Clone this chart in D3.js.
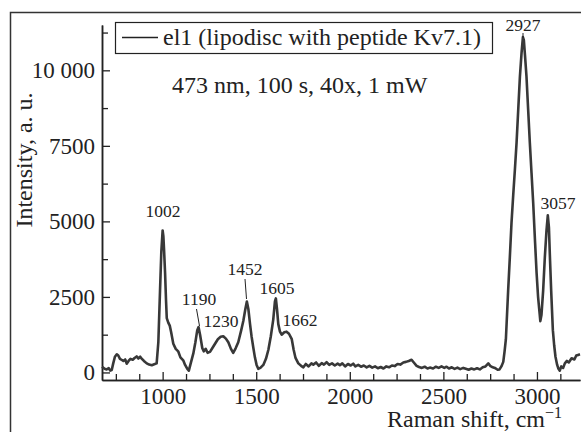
<!DOCTYPE html>
<html>
<head>
<meta charset="utf-8">
<script src="https://cdn.jsdelivr.net/npm/d3@7"></script>
<style>
  body { margin: 0; background: #fff; }
  svg { display: block; }
</style>
</head>
<body>
<div id="chart"></div>
<script>
// Raman spectrum (cm-1, a.u.)
const shift = [676, 690, 701, 712, 720, 728, 736, 745, 755, 763, 772, 780, 790, 800, 808, 818, 828, 840, 850, 861,
  870, 880, 888, 900, 915, 928, 942, 955, 968, 977, 986, 993, 1000, 1004, 1008, 1013, 1018, 1022, 1030, 1038,
  1045, 1057, 1070, 1083, 1095, 1110, 1120, 1132, 1140, 1150, 1164, 1175, 1185, 1192, 1200, 1212, 1220, 1230, 1240, 1253,
  1265, 1280, 1295, 1310, 1324, 1338, 1351, 1365, 1377, 1390, 1404, 1420, 1431, 1442, 1450, 1458, 1467, 1475, 1485, 1493,
  1502, 1511, 1522, 1538, 1552, 1565, 1578, 1591, 1600, 1605, 1611, 1618, 1627, 1636, 1650, 1662, 1675, 1690, 1700, 1710,
  1725, 1740, 1752, 1765, 1780, 1795, 1805, 1820, 1835, 1850, 1862, 1876, 1890, 1905, 1920, 1935, 1947, 1960, 1975, 1990,
  2005, 2018, 2030, 2045, 2060, 2075, 2090, 2105, 2120, 2135, 2150, 2165, 2180, 2195, 2210, 2225, 2240, 2255, 2270, 2286,
  2300, 2315, 2330, 2342, 2357, 2370, 2385, 2400, 2415, 2428, 2445, 2460, 2475, 2490, 2505, 2517, 2530, 2545, 2560, 2575,
  2590, 2606, 2620, 2635, 2650, 2665, 2680, 2695, 2710, 2725, 2740, 2750, 2760, 2775, 2790, 2800, 2810, 2820, 2827, 2834,
  2840, 2846, 2855, 2864, 2873, 2882, 2891, 2900, 2909, 2918, 2925, 2930, 2936, 2944, 2953, 2962, 2971, 2980, 2990, 2998,
  3006, 3012, 3018, 3024, 3033, 3042, 3051, 3058, 3064, 3070, 3076, 3085, 3092, 3099, 3108, 3115, 3122, 3130, 3140, 3149,
  3160, 3170, 3185, 3200, 3210, 3220, 3230];
const intensity = [190, 120, 100, 140, 60, 80, 300, 520, 600, 560, 450, 420, 380, 430, 290, 380, 450, 420, 480, 530,
  460, 520, 460, 380, 300, 260, 240, 270, 300, 1000, 2700, 4000, 4700, 4500, 4000, 3300, 2400, 1800, 1650, 1550,
  1350, 950, 780, 700, 500, 400, 250, 120, 60, 300, 630, 1000, 1400, 1500, 1250, 800, 700, 780, 650, 680,
  800, 950, 1100, 1180, 1200, 1120, 1000, 780, 650, 800, 1000, 1400, 1700, 2100, 2350, 2100, 1600, 1200, 800, 500,
  250, 120, 150, 250, 450, 750, 1200, 1750, 2350, 2450, 2100, 1600, 1350, 1250, 1330, 1350, 1280, 1100, 750, 480,
  300, 220, 170, 280, 200, 300, 260, 330, 220, 310, 260, 340, 250, 300, 230, 290, 240, 300, 200, 280,
  230, 290, 200, 250, 190, 230, 170, 220, 160, 200, 140, 180, 130, 200, 170, 230, 210, 280, 260, 330,
  350, 380, 420, 330, 220, 180, 150, 190, 130, 160, 130, 190, 150, 200, 150, 190, 130, 170, 120, 160,
  110, 150, 120, 90, 130, 100, 140, 100, 170, 200, 300, 220, 180, 150, 90, 100, 200, 350, 700, 1100,
  1900, 2700, 3800, 4950, 5850, 6700, 7600, 8700, 9800, 10600, 11100, 11000, 10500, 9800, 8700, 7600, 6600, 5600, 4300, 3300,
  2500, 2100, 1700, 1900, 2700, 3800, 4700, 5200, 4800, 3700, 2700, 1400, 900, 520, 250, 120, 60, 200, 150, 300,
  380, 330, 470, 430, 560, 580, 600];

const peakLabels = ["1002", "1190", "1230", "1452", "1605", "1662", "2927", "3057"];
const yTicks = [0, 2500, 5000, 7500, 10000];
const yTickLabels = ["0", "2500", "5000", "7500", "10 000"];
const yMinor = [1250, 3750, 6250, 8750, 11250];
const xTicks = [1000, 1500, 2000, 2500, 3000];
const xTickLabels = ["1000", "1500", "2000", "2500", "3000"];
const xMinor = [750, 875, 1125, 1250, 1375, 1625, 1750, 1875, 2125, 2250, 2375, 2625, 2750, 2875, 3125];

const width = 581;
const height = 432;
const font = "'Liberation Serif', 'Times New Roman', serif";
const ink = "#222";

const svg = d3.select("#chart")
  .append("svg")
  .attr("width", width)
  .attr("height", height);

// outer frame (cut off at right and bottom like the scan)
svg.append("rect")
  .attr("x", 10.5).attr("y", 12.5)
  .attr("width", 600).attr("height", 440)
  .attr("fill", "none")
  .attr("stroke", "#333")
  .attr("stroke-width", 1.5);

const x = d3.scaleLinear().domain([676, 3230]).range([102, 580]);
const y = d3.scaleLinear().domain([-250, 11500]).range([380, 25]);

// axes: ticks point into the plot
svg.append("g")
  .attr("transform", "translate(102,0)")
  .call(d3.axisLeft(y).tickValues(yTicks).tickSize(-8).tickSizeOuter(0).tickPadding(7)
    .tickFormat((d, i) => yTickLabels[i]));
svg.append("g")
  .attr("transform", "translate(102,0)")
  .call(d3.axisLeft(y).tickValues(yMinor).tickSize(-6).tickSizeOuter(0).tickFormat(""));

svg.append("g")
  .attr("transform", "translate(0,380)")
  .call(d3.axisBottom(x).tickValues(xTicks).tickSize(-8).tickSizeOuter(0).tickPadding(8)
    .tickFormat((d, i) => xTickLabels[i]));
svg.append("g")
  .attr("transform", "translate(0,380)")
  .call(d3.axisBottom(x).tickValues(xMinor).tickSize(-6).tickSizeOuter(0).tickFormat(""));

svg.selectAll(".domain").attr("stroke", ink).attr("stroke-width", 1.5);
svg.selectAll(".tick line").attr("stroke", ink).attr("stroke-width", 1.3);
svg.selectAll(".tick text")
  .attr("fill", ink)
  .style("font-family", font)
  .style("font-size", "23px");

// spectrum
const pts = shift.map((s, i) => [s, intensity[i]]);
svg.append("path")
  .datum(pts)
  .attr("fill", "none")
  .attr("stroke", "#383838")
  .attr("stroke-width", 2.6)
  .attr("stroke-linejoin", "round")
  .attr("d", d3.line().x((d) => x(d[0])).y((d) => y(d[1])));

// peak labels
const lab = [
  { t: peakLabels[0], x: 163, y: 217 },
  { t: peakLabels[1], x: 199, y: 305 },
  { t: peakLabels[2], x: 221, y: 327 },
  { t: peakLabels[3], x: 245, y: 275 },
  { t: peakLabels[4], x: 277, y: 294 },
  { t: peakLabels[5], x: 300, y: 326 },
  { t: peakLabels[6], x: 523, y: 31 },
  { t: peakLabels[7], x: 558, y: 209 }
];
svg.append("g").selectAll("text")
  .data(lab)
  .enter()
  .append("text")
  .attr("x", (d) => d.x)
  .attr("y", (d) => d.y)
  .attr("text-anchor", "middle")
  .attr("fill", ink)
  .style("font-family", font)
  .style("font-size", "17.5px")
  .text((d) => d.t);

// leader lines
const leaders = [[196.5, 309, 199.5, 326], [245, 279, 246.5, 299], [523, 33, 523, 38]];
svg.append("g").selectAll("line")
  .data(leaders)
  .enter()
  .append("line")
  .attr("x1", (d) => d[0]).attr("y1", (d) => d[1])
  .attr("x2", (d) => d[2]).attr("y2", (d) => d[3])
  .attr("stroke", ink)
  .attr("stroke-width", 1);

// legend
svg.append("rect")
  .attr("x", 115.5).attr("y", 22.5)
  .attr("width", 377).attr("height", 31)
  .attr("fill", "#fff")
  .attr("stroke", ink)
  .attr("stroke-width", 1.2);
svg.append("line")
  .attr("x1", 122).attr("x2", 158)
  .attr("y1", 37.5).attr("y2", 37.5)
  .attr("stroke", ink)
  .attr("stroke-width", 1.5);
svg.append("text")
  .attr("x", 163).attr("y", 45)
  .attr("fill", ink)
  .style("font-family", font)
  .style("font-size", "24px")
  .text("el1 (lipodisc with peptide Kv7.1)");

svg.append("text")
  .attr("x", 172).attr("y", 93)
  .attr("fill", ink)
  .style("font-family", font)
  .style("font-size", "24px")
  .text("473 nm, 100 s, 40x, 1 mW");

// axis titles
svg.append("text")
  .attr("transform", "translate(32,160) rotate(-90)")
  .attr("text-anchor", "middle")
  .attr("fill", ink)
  .style("font-family", font)
  .style("font-size", "24px")
  .text("Intensity, a. u.");

const xt = svg.append("text")
  .attr("x", 562).attr("y", 427)
  .attr("text-anchor", "end")
  .attr("fill", ink)
  .style("font-family", font)
  .style("font-size", "24px");
xt.append("tspan").text("Raman shift, cm");
xt.append("tspan").attr("dy", -9).style("font-size", "16px").text("−1");
</script>
</body>
</html>
